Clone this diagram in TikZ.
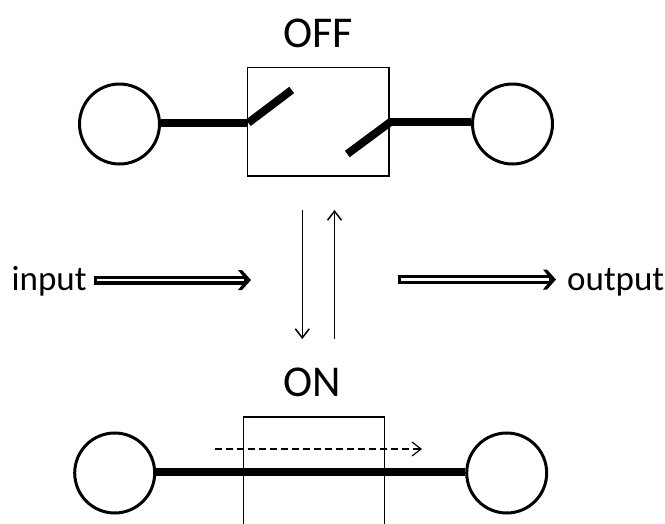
\documentclass[tikz,border=0pt]{standalone}
\usepackage{fontspec}
\setmainfont{Carlito}
\usetikzlibrary{arrows.meta}
\begin{document}
\begin{tikzpicture}[x=1pt,y=-1pt,
  term/.style={circle,draw,line width=3pt,minimum size=80pt,inner sep=0pt},
  swbox/.style={draw,line width=1.3pt,inner sep=0pt},
  wire/.style={line width=8pt},
  title/.style={font=\fontsize{44}{44}\selectfont,anchor=base,inner sep=0pt},
  lbl/.style={font=\fontsize{35}{35}\selectfont,inner sep=0pt},
  shaft/.style={line width=9pt},
  gap/.style={white,line width=2.2pt},
  trans/.style={line width=1.5pt,-{Straight Barb[length=9pt,width=14pt]}},
  pass/.style={line width=1.2pt,dash pattern=on 7pt off 4pt,-{Straight Barb[length=9pt,width=14pt]}}]
\clip (0,0) rectangle (665,523);
\fill[white] (0,0) rectangle (665,523);
% ---- OFF state
\node[title] (off) at (318,47.3) {OFF};
\node[swbox,minimum width=141.7pt,minimum height=108.7pt] (b1) at (318.2,121.7) {};
\node[term] (l1) at (119.5,124) {};
\node[term] (r1) at (512.5,124) {};
\coordinate (b1in) at (248.3,122.8);
\coordinate (b1a) at (291.7,90);
\coordinate (b1b) at (347.3,154);
\coordinate (b1out) at (390,122.3);
\draw[wire] (l1.east |- b1in) -- (b1in);
\draw[wire] (b1in) -- (b1a);
\draw[wire] (b1b) -- (b1out);
\draw[wire] (b1out) -- (r1.west |- b1out);
% ---- middle
\node[lbl,anchor=base west] (in) at (11.5,290) {input};
\coordinate (ina) at (94,280);
\coordinate (inb) at (251,280);
\draw[shaft] (ina) -- ([xshift=-5pt]inb);
\draw[gap] ([xshift=2.5pt]ina) -- ([xshift=-7pt]inb);
\fill (inb) -- ++(-9,-10) -- ++(-4,0) -- ++(8,10) -- ++(-8,10) -- ++(4,0) -- cycle;
\node[lbl,anchor=base west] (out) at (567,290) {output};
\coordinate (outa) at (398.3,279.5);
\coordinate (outb) at (556,279.5);
\draw[shaft] (outa) -- ([xshift=-5pt]outb);
\draw[gap] ([xshift=2.5pt]outa) -- ([xshift=-7pt]outb);
\fill (outb) -- ++(-9,-10) -- ++(-4,0) -- ++(8,10) -- ++(-8,10) -- ++(4,0) -- cycle;
\coordinate (d1) at (302.3,209.5);
\coordinate (d2) at (302.3,339);
\coordinate (u1) at (334.5,339);
\coordinate (u2) at (334.5,210);
\draw[trans] (d1) -- (d2);
\draw[trans] (u1) -- (u2);
% ---- ON state
\node[title] (on) at (312.5,396.3) {ON};
\node[term] (l2) at (114.7,473) {};
\node[term] (r2) at (506.7,473) {};
\node[swbox,minimum width=141.3pt,minimum height=140pt,anchor=north west] (b2) at (242.7,416.3) {};
\draw[wire] (l2.east |- 0,471.5) -- (r2.west |- 0,471.5);
\coordinate (p1) at (215,449);
\coordinate (p2) at (422,449);
\draw[pass] (p1) -- (p2);
\end{tikzpicture}
\end{document}
